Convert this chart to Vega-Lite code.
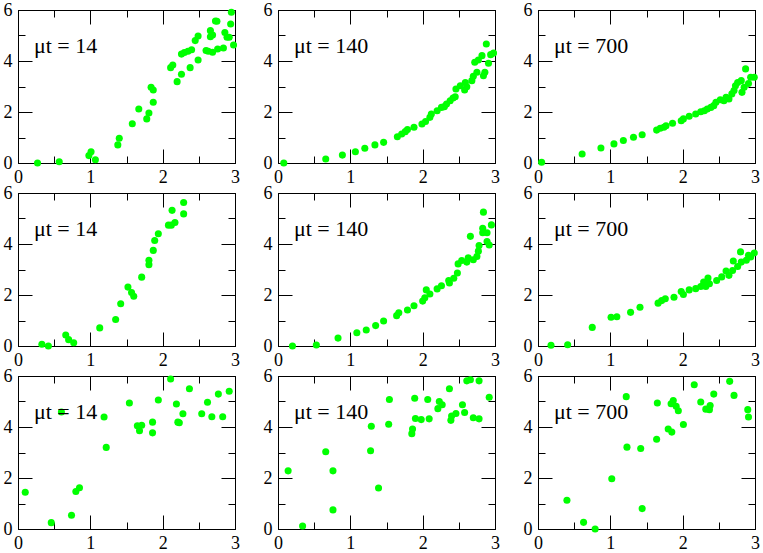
{
  "$schema": "https://vega.github.io/schema/vega-lite/v6.json",
  "padding": {"left": 2, "top": 0, "right": 4, "bottom": 1},
  "background": "white",
  "data": {
    "values": [
      {"r": 1, "c": 1, "label": "μt = 14"},
      {"r": 1, "c": 2, "label": "μt = 140"},
      {"r": 1, "c": 3, "label": "μt = 700"},
      {"r": 2, "c": 1, "label": "μt = 14"},
      {"r": 2, "c": 2, "label": "μt = 140"},
      {"r": 2, "c": 3, "label": "μt = 700"},
      {"r": 3, "c": 1, "label": "μt = 14"},
      {"r": 3, "c": 2, "label": "μt = 140"},
      {"r": 3, "c": 3, "label": "μt = 700"},

      {"r": 1, "c": 1, "x": 0.27, "y": 0},
      {"r": 1, "c": 1, "x": 0.57, "y": 0.05},
      {"r": 1, "c": 1, "x": 0.98, "y": 0.29},
      {"r": 1, "c": 1, "x": 1.01, "y": 0.44},
      {"r": 1, "c": 1, "x": 1.07, "y": 0.13},
      {"r": 1, "c": 1, "x": 1.38, "y": 0.71},
      {"r": 1, "c": 1, "x": 1.40, "y": 0.97},
      {"r": 1, "c": 1, "x": 1.58, "y": 1.54},
      {"r": 1, "c": 1, "x": 1.67, "y": 2.12},
      {"r": 1, "c": 1, "x": 1.78, "y": 1.73},
      {"r": 1, "c": 1, "x": 1.81, "y": 1.96},
      {"r": 1, "c": 1, "x": 1.84, "y": 2.97},
      {"r": 1, "c": 1, "x": 1.87, "y": 2.86},
      {"r": 1, "c": 1, "x": 1.87, "y": 2.38},
      {"r": 1, "c": 1, "x": 2.11, "y": 3.74},
      {"r": 1, "c": 1, "x": 2.14, "y": 3.84},
      {"r": 1, "c": 1, "x": 2.20, "y": 3.19},
      {"r": 1, "c": 1, "x": 2.26, "y": 3.48},
      {"r": 1, "c": 1, "x": 2.26, "y": 4.27},
      {"r": 1, "c": 1, "x": 2.30, "y": 4.33},
      {"r": 1, "c": 1, "x": 2.35, "y": 4.38},
      {"r": 1, "c": 1, "x": 2.38, "y": 3.74},
      {"r": 1, "c": 1, "x": 2.40, "y": 4.44},
      {"r": 1, "c": 1, "x": 2.45, "y": 4.80},
      {"r": 1, "c": 1, "x": 2.49, "y": 4.98},
      {"r": 1, "c": 1, "x": 2.49, "y": 4.04},
      {"r": 1, "c": 1, "x": 2.60, "y": 4.41},
      {"r": 1, "c": 1, "x": 2.63, "y": 4.38},
      {"r": 1, "c": 1, "x": 2.66, "y": 5.19},
      {"r": 1, "c": 1, "x": 2.66, "y": 4.95},
      {"r": 1, "c": 1, "x": 2.69, "y": 5.02},
      {"r": 1, "c": 1, "x": 2.69, "y": 4.34},
      {"r": 1, "c": 1, "x": 2.73, "y": 5.57},
      {"r": 1, "c": 1, "x": 2.75, "y": 5.56},
      {"r": 1, "c": 1, "x": 2.76, "y": 4.47},
      {"r": 1, "c": 1, "x": 2.84, "y": 4.51},
      {"r": 1, "c": 1, "x": 2.86, "y": 5.12},
      {"r": 1, "c": 1, "x": 2.89, "y": 4.93},
      {"r": 1, "c": 1, "x": 2.92, "y": 4.93},
      {"r": 1, "c": 1, "x": 2.94, "y": 5.45},
      {"r": 1, "c": 1, "x": 2.95, "y": 5.91},
      {"r": 1, "c": 1, "x": 2.98, "y": 4.63},

      {"r": 1, "c": 2, "x": 0.08, "y": 0},
      {"r": 1, "c": 2, "x": 0.66, "y": 0.16},
      {"r": 1, "c": 2, "x": 0.89, "y": 0.31},
      {"r": 1, "c": 2, "x": 1.07, "y": 0.44},
      {"r": 1, "c": 2, "x": 1.20, "y": 0.58},
      {"r": 1, "c": 2, "x": 1.34, "y": 0.71},
      {"r": 1, "c": 2, "x": 1.46, "y": 0.81},
      {"r": 1, "c": 2, "x": 1.65, "y": 1.03},
      {"r": 1, "c": 2, "x": 1.71, "y": 1.14},
      {"r": 1, "c": 2, "x": 1.76, "y": 1.23},
      {"r": 1, "c": 2, "x": 1.79, "y": 1.31},
      {"r": 1, "c": 2, "x": 1.88, "y": 1.40},
      {"r": 1, "c": 2, "x": 1.99, "y": 1.53},
      {"r": 1, "c": 2, "x": 2.04, "y": 1.63},
      {"r": 1, "c": 2, "x": 2.10, "y": 1.79},
      {"r": 1, "c": 2, "x": 2.12, "y": 1.92},
      {"r": 1, "c": 2, "x": 2.20, "y": 2.05},
      {"r": 1, "c": 2, "x": 2.26, "y": 2.18},
      {"r": 1, "c": 2, "x": 2.30, "y": 2.21},
      {"r": 1, "c": 2, "x": 2.33, "y": 2.31},
      {"r": 1, "c": 2, "x": 2.38, "y": 2.44},
      {"r": 1, "c": 2, "x": 2.42, "y": 2.55},
      {"r": 1, "c": 2, "x": 2.45, "y": 2.60},
      {"r": 1, "c": 2, "x": 2.46, "y": 2.90},
      {"r": 1, "c": 2, "x": 2.52, "y": 3.03},
      {"r": 1, "c": 2, "x": 2.58, "y": 2.86},
      {"r": 1, "c": 2, "x": 2.59, "y": 3.16},
      {"r": 1, "c": 2, "x": 2.61, "y": 2.99},
      {"r": 1, "c": 2, "x": 2.68, "y": 3.23},
      {"r": 1, "c": 2, "x": 2.70, "y": 3.40},
      {"r": 1, "c": 2, "x": 2.72, "y": 3.95},
      {"r": 1, "c": 2, "x": 2.75, "y": 3.56},
      {"r": 1, "c": 2, "x": 2.77, "y": 4.04},
      {"r": 1, "c": 2, "x": 2.82, "y": 4.21},
      {"r": 1, "c": 2, "x": 2.84, "y": 3.42},
      {"r": 1, "c": 2, "x": 2.86, "y": 3.56},
      {"r": 1, "c": 2, "x": 2.88, "y": 4.67},
      {"r": 1, "c": 2, "x": 2.91, "y": 3.91},
      {"r": 1, "c": 2, "x": 2.94, "y": 4.25},
      {"r": 1, "c": 2, "x": 2.98, "y": 4.31},

      {"r": 1, "c": 3, "x": 0.05, "y": 0.03},
      {"r": 1, "c": 3, "x": 0.61, "y": 0.35},
      {"r": 1, "c": 3, "x": 0.87, "y": 0.59},
      {"r": 1, "c": 3, "x": 1.05, "y": 0.75},
      {"r": 1, "c": 3, "x": 1.18, "y": 0.88},
      {"r": 1, "c": 3, "x": 1.32, "y": 1.01},
      {"r": 1, "c": 3, "x": 1.44, "y": 1.11},
      {"r": 1, "c": 3, "x": 1.64, "y": 1.29},
      {"r": 1, "c": 3, "x": 1.69, "y": 1.36},
      {"r": 1, "c": 3, "x": 1.74, "y": 1.40},
      {"r": 1, "c": 3, "x": 1.77, "y": 1.46},
      {"r": 1, "c": 3, "x": 1.86, "y": 1.56},
      {"r": 1, "c": 3, "x": 1.98, "y": 1.66},
      {"r": 1, "c": 3, "x": 2.01, "y": 1.73},
      {"r": 1, "c": 3, "x": 2.09, "y": 1.83},
      {"r": 1, "c": 3, "x": 2.18, "y": 1.92},
      {"r": 1, "c": 3, "x": 2.25, "y": 2.01},
      {"r": 1, "c": 3, "x": 2.30, "y": 2.05},
      {"r": 1, "c": 3, "x": 2.34, "y": 2.12},
      {"r": 1, "c": 3, "x": 2.39, "y": 2.18},
      {"r": 1, "c": 3, "x": 2.43, "y": 2.25},
      {"r": 1, "c": 3, "x": 2.46, "y": 2.38},
      {"r": 1, "c": 3, "x": 2.52, "y": 2.48},
      {"r": 1, "c": 3, "x": 2.57, "y": 2.44},
      {"r": 1, "c": 3, "x": 2.60, "y": 2.58},
      {"r": 1, "c": 3, "x": 2.64, "y": 2.51},
      {"r": 1, "c": 3, "x": 2.68, "y": 2.71},
      {"r": 1, "c": 3, "x": 2.71, "y": 2.84},
      {"r": 1, "c": 3, "x": 2.73, "y": 3.03},
      {"r": 1, "c": 3, "x": 2.76, "y": 3.16},
      {"r": 1, "c": 3, "x": 2.81, "y": 3.23},
      {"r": 1, "c": 3, "x": 2.82, "y": 2.77},
      {"r": 1, "c": 3, "x": 2.85, "y": 2.97},
      {"r": 1, "c": 3, "x": 2.87, "y": 3.69},
      {"r": 1, "c": 3, "x": 2.91, "y": 3.12},
      {"r": 1, "c": 3, "x": 2.94, "y": 3.36},
      {"r": 1, "c": 3, "x": 2.99, "y": 3.36},

      {"r": 2, "c": 1, "x": 0.33, "y": 0.07},
      {"r": 2, "c": 1, "x": 0.42, "y": 0},
      {"r": 2, "c": 1, "x": 0.66, "y": 0.43},
      {"r": 2, "c": 1, "x": 0.70, "y": 0.25},
      {"r": 2, "c": 1, "x": 0.77, "y": 0.13},
      {"r": 2, "c": 1, "x": 1.13, "y": 0.71},
      {"r": 2, "c": 1, "x": 1.35, "y": 1.04},
      {"r": 2, "c": 1, "x": 1.42, "y": 1.66},
      {"r": 2, "c": 1, "x": 1.52, "y": 2.31},
      {"r": 2, "c": 1, "x": 1.57, "y": 2.10},
      {"r": 2, "c": 1, "x": 1.60, "y": 1.95},
      {"r": 2, "c": 1, "x": 1.71, "y": 2.70},
      {"r": 2, "c": 1, "x": 1.81, "y": 3.19},
      {"r": 2, "c": 1, "x": 1.81, "y": 3.36},
      {"r": 2, "c": 1, "x": 1.87, "y": 3.75},
      {"r": 2, "c": 1, "x": 1.89, "y": 4.14},
      {"r": 2, "c": 1, "x": 1.94, "y": 4.40},
      {"r": 2, "c": 1, "x": 2.08, "y": 4.74},
      {"r": 2, "c": 1, "x": 2.12, "y": 4.74},
      {"r": 2, "c": 1, "x": 2.13, "y": 5.32},
      {"r": 2, "c": 1, "x": 2.17, "y": 4.84},
      {"r": 2, "c": 1, "x": 2.29, "y": 5.18},
      {"r": 2, "c": 1, "x": 2.29, "y": 5.63},

      {"r": 2, "c": 2, "x": 0.20, "y": 0},
      {"r": 2, "c": 2, "x": 0.53, "y": 0.04},
      {"r": 2, "c": 2, "x": 0.83, "y": 0.31},
      {"r": 2, "c": 2, "x": 1.09, "y": 0.52},
      {"r": 2, "c": 2, "x": 1.22, "y": 0.63},
      {"r": 2, "c": 2, "x": 1.35, "y": 0.80},
      {"r": 2, "c": 2, "x": 1.46, "y": 0.98},
      {"r": 2, "c": 2, "x": 1.64, "y": 1.19},
      {"r": 2, "c": 2, "x": 1.67, "y": 1.30},
      {"r": 2, "c": 2, "x": 1.79, "y": 1.41},
      {"r": 2, "c": 2, "x": 1.88, "y": 1.58},
      {"r": 2, "c": 2, "x": 2.00, "y": 1.76},
      {"r": 2, "c": 2, "x": 2.03, "y": 1.89},
      {"r": 2, "c": 2, "x": 2.05, "y": 2.20},
      {"r": 2, "c": 2, "x": 2.10, "y": 2.04},
      {"r": 2, "c": 2, "x": 2.20, "y": 2.24},
      {"r": 2, "c": 2, "x": 2.26, "y": 2.36},
      {"r": 2, "c": 2, "x": 2.36, "y": 2.57},
      {"r": 2, "c": 2, "x": 2.37, "y": 2.47},
      {"r": 2, "c": 2, "x": 2.43, "y": 2.66},
      {"r": 2, "c": 2, "x": 2.48, "y": 2.86},
      {"r": 2, "c": 2, "x": 2.49, "y": 3.22},
      {"r": 2, "c": 2, "x": 2.54, "y": 3.35},
      {"r": 2, "c": 2, "x": 2.61, "y": 3.29},
      {"r": 2, "c": 2, "x": 2.63, "y": 3.46},
      {"r": 2, "c": 2, "x": 2.66, "y": 4.30},
      {"r": 2, "c": 2, "x": 2.70, "y": 3.38},
      {"r": 2, "c": 2, "x": 2.75, "y": 3.51},
      {"r": 2, "c": 2, "x": 2.77, "y": 3.72},
      {"r": 2, "c": 2, "x": 2.78, "y": 3.94},
      {"r": 2, "c": 2, "x": 2.83, "y": 4.62},
      {"r": 2, "c": 2, "x": 2.84, "y": 5.25},
      {"r": 2, "c": 2, "x": 2.83, "y": 4.44},
      {"r": 2, "c": 2, "x": 2.89, "y": 4.44},
      {"r": 2, "c": 2, "x": 2.89, "y": 4.10},
      {"r": 2, "c": 2, "x": 2.92, "y": 3.96},
      {"r": 2, "c": 2, "x": 2.95, "y": 4.75},

      {"r": 2, "c": 3, "x": 0.18, "y": 0.03},
      {"r": 2, "c": 3, "x": 0.41, "y": 0.05},
      {"r": 2, "c": 3, "x": 0.75, "y": 0.73},
      {"r": 2, "c": 3, "x": 1.01, "y": 1.13},
      {"r": 2, "c": 3, "x": 1.09, "y": 1.15},
      {"r": 2, "c": 3, "x": 1.28, "y": 1.32},
      {"r": 2, "c": 3, "x": 1.41, "y": 1.52},
      {"r": 2, "c": 3, "x": 1.66, "y": 1.68},
      {"r": 2, "c": 3, "x": 1.71, "y": 1.78},
      {"r": 2, "c": 3, "x": 1.76, "y": 1.85},
      {"r": 2, "c": 3, "x": 1.88, "y": 1.91},
      {"r": 2, "c": 3, "x": 1.98, "y": 2.14},
      {"r": 2, "c": 3, "x": 2.01, "y": 2.02},
      {"r": 2, "c": 3, "x": 2.09, "y": 2.20},
      {"r": 2, "c": 3, "x": 2.18, "y": 2.25},
      {"r": 2, "c": 3, "x": 2.25, "y": 2.33},
      {"r": 2, "c": 3, "x": 2.29, "y": 2.51},
      {"r": 2, "c": 3, "x": 2.32, "y": 2.33},
      {"r": 2, "c": 3, "x": 2.35, "y": 2.67},
      {"r": 2, "c": 3, "x": 2.37, "y": 2.44},
      {"r": 2, "c": 3, "x": 2.47, "y": 2.57},
      {"r": 2, "c": 3, "x": 2.54, "y": 2.71},
      {"r": 2, "c": 3, "x": 2.60, "y": 2.94},
      {"r": 2, "c": 3, "x": 2.64, "y": 2.77},
      {"r": 2, "c": 3, "x": 2.69, "y": 2.96},
      {"r": 2, "c": 3, "x": 2.70, "y": 3.33},
      {"r": 2, "c": 3, "x": 2.76, "y": 3.12},
      {"r": 2, "c": 3, "x": 2.80, "y": 3.69},
      {"r": 2, "c": 3, "x": 2.81, "y": 3.29},
      {"r": 2, "c": 3, "x": 2.88, "y": 3.36},
      {"r": 2, "c": 3, "x": 2.91, "y": 3.56},
      {"r": 2, "c": 3, "x": 2.94, "y": 3.49},
      {"r": 2, "c": 3, "x": 2.99, "y": 3.65},

      {"r": 3, "c": 1, "x": 0.10, "y": 1.44},
      {"r": 3, "c": 1, "x": 0.46, "y": 0.25},
      {"r": 3, "c": 1, "x": 0.60, "y": 4.59},
      {"r": 3, "c": 1, "x": 0.74, "y": 0.54},
      {"r": 3, "c": 1, "x": 0.80, "y": 1.47},
      {"r": 3, "c": 1, "x": 0.85, "y": 1.62},
      {"r": 3, "c": 1, "x": 1.19, "y": 4.39},
      {"r": 3, "c": 1, "x": 1.22, "y": 3.20},
      {"r": 3, "c": 1, "x": 1.54, "y": 4.94},
      {"r": 3, "c": 1, "x": 1.65, "y": 4.05},
      {"r": 3, "c": 1, "x": 1.68, "y": 3.85},
      {"r": 3, "c": 1, "x": 1.71, "y": 4.07},
      {"r": 3, "c": 1, "x": 1.86, "y": 4.19},
      {"r": 3, "c": 1, "x": 1.86, "y": 3.77},
      {"r": 3, "c": 1, "x": 1.94, "y": 5.06},
      {"r": 3, "c": 1, "x": 2.11, "y": 5.88},
      {"r": 3, "c": 1, "x": 2.19, "y": 4.90},
      {"r": 3, "c": 1, "x": 2.21, "y": 4.19},
      {"r": 3, "c": 1, "x": 2.23, "y": 4.17},
      {"r": 3, "c": 1, "x": 2.28, "y": 4.52},
      {"r": 3, "c": 1, "x": 2.37, "y": 5.50},
      {"r": 3, "c": 1, "x": 2.54, "y": 4.52},
      {"r": 3, "c": 1, "x": 2.62, "y": 4.97},
      {"r": 3, "c": 1, "x": 2.68, "y": 4.40},
      {"r": 3, "c": 1, "x": 2.77, "y": 5.29},
      {"r": 3, "c": 1, "x": 2.83, "y": 4.40},
      {"r": 3, "c": 1, "x": 2.92, "y": 5.40},

      {"r": 3, "c": 2, "x": 0.14, "y": 2.28},
      {"r": 3, "c": 2, "x": 0.34, "y": 0.12},
      {"r": 3, "c": 2, "x": 0.66, "y": 3.03},
      {"r": 3, "c": 2, "x": 0.76, "y": 2.28},
      {"r": 3, "c": 2, "x": 0.76, "y": 0.75},
      {"r": 3, "c": 2, "x": 1.28, "y": 3.07},
      {"r": 3, "c": 2, "x": 1.29, "y": 4.03},
      {"r": 3, "c": 2, "x": 1.39, "y": 1.61},
      {"r": 3, "c": 2, "x": 1.53, "y": 4.11},
      {"r": 3, "c": 2, "x": 1.54, "y": 5.08},
      {"r": 3, "c": 2, "x": 1.85, "y": 3.74},
      {"r": 3, "c": 2, "x": 1.86, "y": 3.92},
      {"r": 3, "c": 2, "x": 1.89, "y": 5.13},
      {"r": 3, "c": 2, "x": 1.90, "y": 4.33},
      {"r": 3, "c": 2, "x": 1.98, "y": 4.29},
      {"r": 3, "c": 2, "x": 2.07, "y": 5.08},
      {"r": 3, "c": 2, "x": 2.09, "y": 4.32},
      {"r": 3, "c": 2, "x": 2.21, "y": 4.72},
      {"r": 3, "c": 2, "x": 2.23, "y": 5.00},
      {"r": 3, "c": 2, "x": 2.27, "y": 4.87},
      {"r": 3, "c": 2, "x": 2.37, "y": 5.50},
      {"r": 3, "c": 2, "x": 2.39, "y": 4.26},
      {"r": 3, "c": 2, "x": 2.40, "y": 4.43},
      {"r": 3, "c": 2, "x": 2.46, "y": 4.53},
      {"r": 3, "c": 2, "x": 2.55, "y": 4.87},
      {"r": 3, "c": 2, "x": 2.58, "y": 4.57},
      {"r": 3, "c": 2, "x": 2.61, "y": 5.81},
      {"r": 3, "c": 2, "x": 2.66, "y": 5.85},
      {"r": 3, "c": 2, "x": 2.70, "y": 4.36},
      {"r": 3, "c": 2, "x": 2.78, "y": 5.81},
      {"r": 3, "c": 2, "x": 2.78, "y": 4.32},
      {"r": 3, "c": 2, "x": 2.92, "y": 5.17},

      {"r": 3, "c": 3, "x": 0.40, "y": 1.13},
      {"r": 3, "c": 3, "x": 0.63, "y": 0.26},
      {"r": 3, "c": 3, "x": 0.79, "y": 0},
      {"r": 3, "c": 3, "x": 1.02, "y": 1.97},
      {"r": 3, "c": 3, "x": 1.22, "y": 5.19},
      {"r": 3, "c": 3, "x": 1.23, "y": 3.21},
      {"r": 3, "c": 3, "x": 1.42, "y": 3.16},
      {"r": 3, "c": 3, "x": 1.44, "y": 0.80},
      {"r": 3, "c": 3, "x": 1.64, "y": 3.52},
      {"r": 3, "c": 3, "x": 1.65, "y": 4.94},
      {"r": 3, "c": 3, "x": 1.80, "y": 3.92},
      {"r": 3, "c": 3, "x": 1.84, "y": 4.91},
      {"r": 3, "c": 3, "x": 1.85, "y": 3.80},
      {"r": 3, "c": 3, "x": 1.87, "y": 5.04},
      {"r": 3, "c": 3, "x": 1.91, "y": 4.81},
      {"r": 3, "c": 3, "x": 1.94, "y": 4.64},
      {"r": 3, "c": 3, "x": 2.01, "y": 4.10},
      {"r": 3, "c": 3, "x": 2.16, "y": 5.66},
      {"r": 3, "c": 3, "x": 2.25, "y": 4.98},
      {"r": 3, "c": 3, "x": 2.32, "y": 4.70},
      {"r": 3, "c": 3, "x": 2.37, "y": 4.68},
      {"r": 3, "c": 3, "x": 2.38, "y": 4.84},
      {"r": 3, "c": 3, "x": 2.43, "y": 5.29},
      {"r": 3, "c": 3, "x": 2.65, "y": 5.79},
      {"r": 3, "c": 3, "x": 2.71, "y": 5.24},
      {"r": 3, "c": 3, "x": 2.90, "y": 4.68},
      {"r": 3, "c": 3, "x": 2.91, "y": 4.39}
    ]
  },
  "facet": {
    "row": {"field": "r", "type": "ordinal", "header": null},
    "column": {"field": "c", "type": "ordinal", "header": null}
  },
  "spacing": {"row": 30, "column": 43},
  "bounds": "flush",
  "resolve": {"axis": {"x": "independent", "y": "independent"}},
  "spec": {
    "width": 217,
    "height": 153,
    "layer": [
      {
        "transform": [{"filter": "isValid(datum.x)"}],
        "mark": {"type": "circle", "size": 50, "color": "#00ff00", "opacity": 1},
        "encoding": {
          "x": {
            "field": "x",
            "type": "quantitative",
            "scale": {"domain": [0, 3], "nice": false},
            "axis": {"orient": "bottom", "values": [0, 1, 2, 3], "format": "d", "tickSize": -14, "labelPadding": 19}
          },
          "y": {
            "field": "y",
            "type": "quantitative",
            "scale": {"domain": [0, 6], "nice": false},
            "axis": {"orient": "left", "values": [0, 2, 4, 6], "format": "d", "tickSize": -14, "labelPadding": 20}
          }
        }
      },
      {
        "transform": [{"filter": "isValid(datum.x)"}],
        "mark": {"type": "circle", "opacity": 0},
        "encoding": {
          "x": {
            "field": "x",
            "type": "quantitative",
            "axis": {"orient": "bottom", "values": [0.5, 1.5, 2.5], "labels": false, "domain": false, "tickSize": -7}
          },
          "y": {
            "field": "y",
            "type": "quantitative",
            "axis": {"orient": "left", "values": [1, 3, 5], "labels": false, "domain": false, "tickSize": -7}
          }
        }
      },
      {
        "transform": [{"filter": "isValid(datum.x)"}],
        "mark": {"type": "circle", "opacity": 0},
        "encoding": {
          "x": {
            "field": "x",
            "type": "quantitative",
            "axis": {"orient": "top", "values": [0, 1, 2, 3], "labels": false, "tickSize": -14}
          },
          "y": {
            "field": "y",
            "type": "quantitative",
            "axis": {"orient": "right", "values": [0, 2, 4, 6], "labels": false, "tickSize": -14}
          }
        }
      },
      {
        "transform": [{"filter": "isValid(datum.x)"}],
        "mark": {"type": "circle", "opacity": 0},
        "encoding": {
          "x": {
            "field": "x",
            "type": "quantitative",
            "axis": {"orient": "top", "values": [0.5, 1.5, 2.5], "labels": false, "domain": false, "tickSize": -7}
          },
          "y": {
            "field": "y",
            "type": "quantitative",
            "axis": {"orient": "right", "values": [1, 3, 5], "labels": false, "domain": false, "tickSize": -7}
          }
        }
      },
      {
        "transform": [{"filter": "isValid(datum.label)"}],
        "mark": {"type": "text", "align": "left", "baseline": "alphabetic", "font": "Liberation Serif, Times New Roman, DejaVu Serif, serif", "fontSize": 22, "color": "black"},
        "encoding": {
          "x": {"datum": 0.22, "type": "quantitative", "axis": null},
          "y": {"datum": 4.3, "type": "quantitative", "axis": null},
          "text": {"field": "label"}
        }
      }
    ],
    "resolve": {"axis": {"x": "independent", "y": "independent"}}
  },
  "config": {
    "view": {"stroke": "black", "strokeWidth": 1},
    "axis": {
      "title": null,
      "grid": false,
      "ticks": true,
      "domainColor": "black",
      "domainWidth": 1,
      "tickColor": "black",
      "tickWidth": 1,
      "labelFont": "Liberation Serif, Times New Roman, DejaVu Serif, serif",
      "labelFontSize": 18,
      "labelColor": "black",
      "labelFlush": false,
      "labelOverlap": false
    }
  }
}
